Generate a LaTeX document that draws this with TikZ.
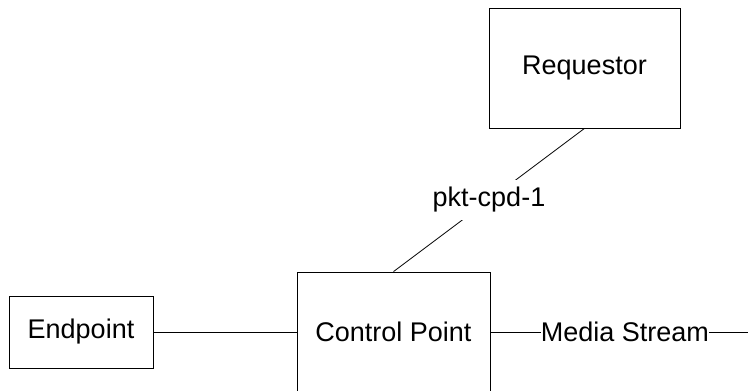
\documentclass[tikz,border=0pt]{standalone}
\usepackage{fontspec}
\setmainfont{Liberation Sans}
\begin{document}
\begin{tikzpicture}[x=1pt,y=-1pt,
  box/.style={draw, line width=0.8pt, rectangle, inner sep=0pt, font=\fontsize{27}{32}\selectfont},
  conn/.style={line width=0.8pt},
  lbl/.style={fill=white, font=\fontsize{27}{32}\selectfont}]
\useasboundingbox (0,0) rectangle (748,391);
\node[box, minimum width=191pt, minimum height=120pt] (req) at (584.5,68) {Requestor};
\node[box, minimum width=193pt, minimum height=120pt] (cp) at (393.5,332) {Control Point};
\node[box, minimum width=144pt, minimum height=72pt] (ep) at (81,332) {Endpoint};
\coordinate (msend) at (749,332);
\draw[conn] (ep.east) -- (cp.west);
\draw[conn] (req.south) -- node[lbl, inner xsep=3pt, inner ysep=7pt] {pkt-cpd-1} (cp.north);
\draw[conn] (cp.east) -- node[lbl, pos=0.52, inner xsep=0pt, inner ysep=2pt] {Media Stream} (msend);
\end{tikzpicture}
\end{document}
